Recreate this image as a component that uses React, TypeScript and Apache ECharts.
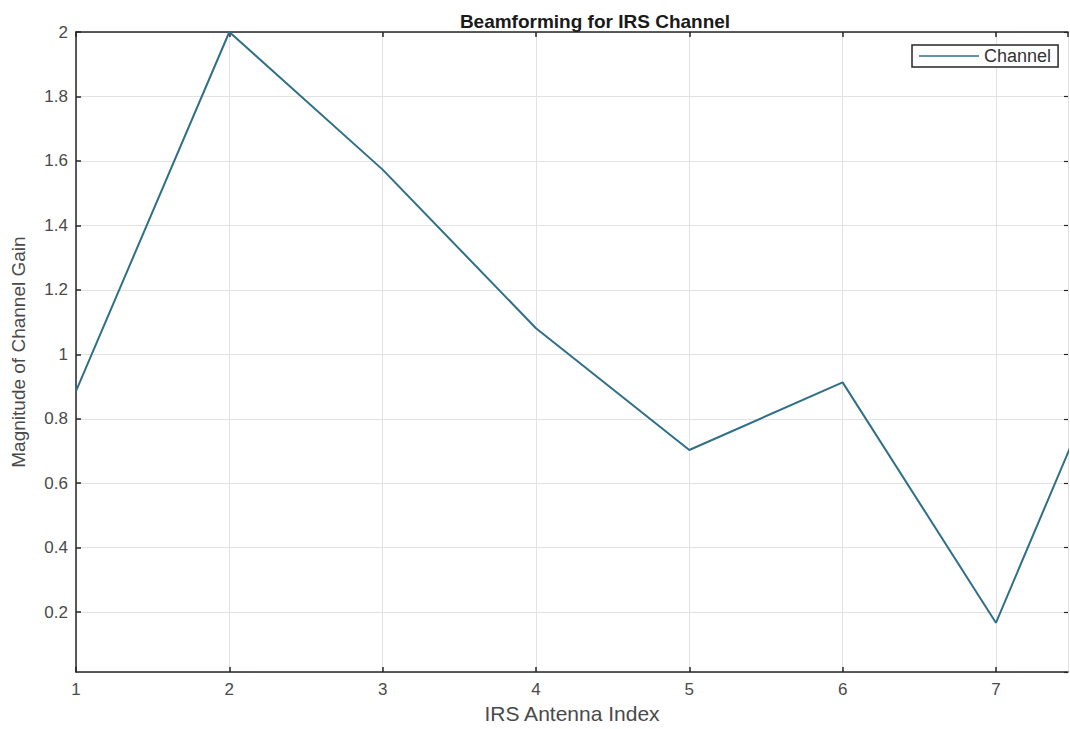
import React, { useEffect, useRef } from "react";
import * as echarts from "echarts";

// Antenna indices and the measured channel gain magnitude at each one
const antennaIndex = [1, 2, 3, 4, 5, 6, 7, 8];
const channelGain = [0.886, 2.0, 1.573, 1.081, 0.703, 0.913, 0.167, 1.29];
const seriesName = "Channel";

const FONT = "'Liberation Sans', Arial, sans-serif";
const LABEL = "#4a4a4a";
const AXIS = "#262626";

export default function App() {
  const ref = useRef<HTMLDivElement>(null);

  useEffect(() => {
    if (!ref.current) return;
    const chart = echarts.init(ref.current, null, { renderer: "svg" });
    const points = antennaIndex.map((x, i) => [x, channelGain[i]]);

    chart.setOption({
      animation: false,
      backgroundColor: "#ffffff",
      textStyle: { fontFamily: FONT },
      title: {
        text: "Beamforming for IRS Channel",
        left: 590,
        textAlign: "center",
        top: 7,
        textStyle: { fontFamily: FONT, fontSize: 19, fontWeight: "bold", color: "#1a1a1a" },
      },
      legend: {
        left: 912,
        top: 45,
        padding: [2, 7, 2, 7],
        borderColor: AXIS,
        borderWidth: 1.5,
        backgroundColor: "#ffffff",
        itemWidth: 60,
        itemHeight: 12,
        itemGap: 4,
        textStyle: { fontFamily: FONT, fontSize: 18, color: "#333333" },
        data: [{ name: seriesName, icon: "path://M0,5 L60,5 L60,6.5 L0,6.5 Z" }],
      },
      grid: { left: 76, top: 32, right: 2, bottom: 47, containLabel: false },
      xAxis: [
        {
          type: "value",
          min: 1,
          max: 7.47,
          interval: 1,
          name: "IRS Antenna Index",
          nameLocation: "middle",
          nameGap: 27,
          nameTextStyle: { fontFamily: FONT, fontSize: 21, color: LABEL },
          axisLine: { show: true, lineStyle: { color: AXIS, width: 1.5 } },
          axisTick: { show: true, inside: true, length: 5, lineStyle: { color: AXIS, width: 1.5 } },
          axisLabel: { showMaxLabel: false, margin: 9, fontFamily: FONT, fontSize: 17, color: LABEL },
          splitLine: { show: true, lineStyle: { color: "#e2e2e2", width: 1 } },
        },
        {
          type: "value",
          position: "top",
          min: 1,
          max: 7.47,
          interval: 1,
          axisLine: { show: true, lineStyle: { color: AXIS, width: 1.5 } },
          axisTick: { show: true, inside: true, length: 5, lineStyle: { color: AXIS, width: 1.5 } },
          axisLabel: { show: false },
          splitLine: { show: false },
        },
      ],
      yAxis: [
        {
          type: "value",
          min: 0.014,
          max: 2,
          splitNumber: 10,
          name: "Magnitude of Channel Gain",
          nameLocation: "middle",
          nameGap: 48,
          nameTextStyle: { fontFamily: FONT, fontSize: 19, color: LABEL },
          axisLine: { show: true, lineStyle: { color: AXIS, width: 1.5 } },
          axisTick: { show: true, inside: true, length: 5, lineStyle: { color: AXIS, width: 1.5 } },
          axisLabel: { showMinLabel: false, margin: 8, fontFamily: FONT, fontSize: 17, color: LABEL },
          splitLine: { show: true, lineStyle: { color: "#e2e2e2", width: 1 } },
        },
        {
          type: "value",
          position: "right",
          min: 0.014,
          max: 2,
          splitNumber: 10,
          axisLine: { show: false },
          axisTick: { show: true, inside: true, length: 4, lineStyle: { color: AXIS, width: 1.2 } },
          axisLabel: { show: false },
          splitLine: { show: false },
        },
      ],
      series: [
        {
          name: seriesName,
          type: "line",
          data: points,
          symbol: "none",
          clip: true,
          lineStyle: { color: "#2f6f88", width: 2 },
          itemStyle: { color: "#2f6f88" },
        },
      ],
    });

    return () => chart.dispose();
  }, []);

  return (
    <div
      ref={ref}
      style={{ position: "fixed", left: 0, top: 0, width: 1070, height: 729 }}
    />
  );
}
